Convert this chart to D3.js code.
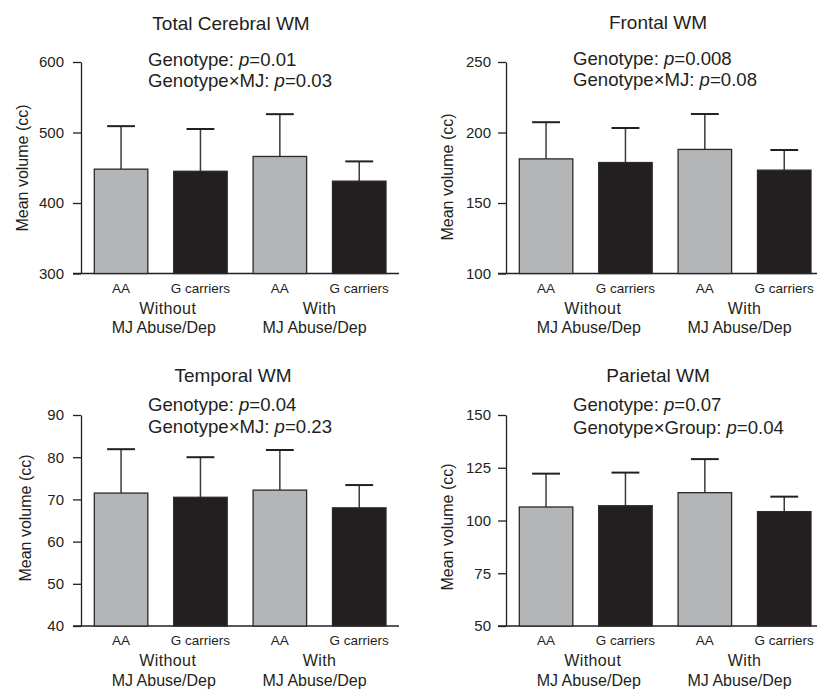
<!DOCTYPE html>
<html>
<head>
<meta charset="utf-8">
<script src="https://cdn.jsdelivr.net/npm/d3@7"></script>
<style>
  html, body { margin: 0; padding: 0; background: #fff; }
  svg { display: block; font-family: "Liberation Sans", Arial, Helvetica, sans-serif; }
</style>
</head>
<body>
<svg id="chart" width="817" height="689"></svg>
<script>
// ---------------- data ----------------
const categories = ["AA", "G carriers", "AA", "G carriers"];
const groupLabels = [["Without", "MJ Abuse/Dep"], ["With", "MJ Abuse/Dep"]];
const panelTitles = ["Total Cerebral WM", "Frontal WM", "Temporal WM", "Parietal WM"];

const totalMeans    = [448, 445, 466, 431];
const totalUpper    = [509, 505, 526, 459];
const frontalMeans  = [181.3, 178.7, 188, 173.3];
const frontalUpper  = [207.3, 203.2, 213.1, 187.6];
const temporalMeans = [71.5, 70.5, 72.2, 68];
const temporalUpper = [81.9, 80.0, 81.7, 73.4];
const parietalMeans = [106.4, 107, 113.2, 104.2];
const parietalUpper = [122.2, 122.7, 129.1, 111.3];

const totalTicks    = [300, 400, 500, 600];
const frontalTicks  = [100, 150, 200, 250];
const temporalTicks = [40, 50, 60, 70, 80, 90];
const parietalTicks = [50, 75, 100, 125, 150];

const statLine1Labels = ["Genotype: ", "Genotype: ", "Genotype: ", "Genotype: "];
const statLine1P      = ["=0.01", "=0.008", "=0.04", "=0.07"];
const statLine2Labels = ["Genotype\u00d7MJ: ", "Genotype\u00d7MJ: ", "Genotype\u00d7MJ: ", "Genotype\u00d7Group: "];
const statLine2P      = ["=0.03", "=0.08", "=0.23", "=0.04"];

const yAxisLabel = "Mean volume (cc)";
const barFills = ["#b4b5b7", "#231f20", "#b4b5b7", "#231f20"];

const means  = [totalMeans, frontalMeans, temporalMeans, parietalMeans];
const uppers = [totalUpper, frontalUpper, temporalUpper, parietalUpper];
const ticks  = [totalTicks, frontalTicks, temporalTicks, parietalTicks];

// ---------------- layout ----------------
const layout = [
  { ax: 81,  top: 62,  bot: 273.5, xEnd: 399, tickPad: 9, titleX: 231, titleY: 30,  annX: 148, annY: [65.7, 87.3], ylabX: 27.5, ylabY: 168, g1: [7, 3], g2: [0, -5] },
  { ax: 506, top: 62,  bot: 273.5, xEnd: 820, tickPad: 7, titleX: 658, titleY: 28.5, annX: 573, annY: [64.5, 86.2], ylabX: 452.5, ylabY: 177, g1: [7, 3], g2: [0, -5] },
  { ax: 81,  top: 415, bot: 626,   xEnd: 399, tickPad: 9, titleX: 233, titleY: 382, annX: 148, annY: [410.7, 432.5], ylabX: 31, ylabY: 518, g1: [7, 3], g2: [0, -5] },
  { ax: 506, top: 415, bot: 626,   xEnd: 820, tickPad: 7, titleX: 658, titleY: 382, annX: 573, annY: [410.7, 434], ylabX: 452.5, ylabY: 527, g1: [7, 3], g2: [0, -5] }
];

const svg = d3.select("#chart");

layout.forEach((L, i) => {
  const g = svg.append("g");
  const tk = ticks[i];
  const y = d3.scaleLinear().domain([tk[0], tk[tk.length - 1]]).range([L.bot, L.top]);
  const x = d3.scaleBand().domain(d3.range(categories.length))
    .range([L.ax + 13.3, L.ax + 305]).paddingInner(0.326).paddingOuter(0);

  // x axis baseline
  g.append("line")
    .attr("x1", L.ax - 8).attr("x2", L.xEnd)
    .attr("y1", L.bot).attr("y2", L.bot)
    .attr("stroke", "#231f20").attr("stroke-width", 1.3);

  // y axis
  const yAxis = d3.axisLeft(y).tickValues(tk).tickSize(8).tickPadding(L.tickPad).tickSizeOuter(0);
  const ya = g.append("g").attr("transform", `translate(${L.ax},0)`).call(yAxis);
  ya.select(".domain").attr("stroke", "#231f20").attr("stroke-width", 1.3);
  ya.selectAll(".tick line").attr("stroke", "#231f20").attr("stroke-width", 1.3);
  ya.selectAll(".tick text").attr("font-size", 15).attr("fill", "#231f20")
    .attr("font-family", "'Liberation Sans', Arial, sans-serif");

  // bars
  const m = means[i], u = uppers[i];
  const cw = x.bandwidth() * 0.52;
  // error bars (drawn first so bar covers base)
  g.selectAll(".err").data(m).enter().append("line")
    .attr("x1", (d, j) => x(j) + x.bandwidth() / 2)
    .attr("x2", (d, j) => x(j) + x.bandwidth() / 2)
    .attr("y1", d => y(d)).attr("y2", (d, j) => y(u[j]))
    .attr("stroke", "#3a3a3a").attr("stroke-width", 1.5);
  g.selectAll(".cap").data(u).enter().append("line")
    .attr("x1", (d, j) => x(j) + x.bandwidth() / 2 - cw / 2)
    .attr("x2", (d, j) => x(j) + x.bandwidth() / 2 + cw / 2)
    .attr("y1", d => y(d)).attr("y2", d => y(d))
    .attr("stroke", "#231f20").attr("stroke-width", 2);
  g.selectAll(".bar").data(m).enter().append("rect")
    .attr("x", (d, j) => x(j))
    .attr("width", x.bandwidth())
    .attr("y", d => y(d))
    .attr("height", d => L.bot - y(d))
    .attr("fill", (d, j) => barFills[j])
    .attr("stroke", "#2a2a2a").attr("stroke-width", 1.3);

  // category labels
  g.selectAll(".cat").data(categories).enter().append("text")
    .attr("x", (d, j) => x(j) + x.bandwidth() / 2)
    .attr("y", L.bot + 19.4)
    .attr("text-anchor", "middle").attr("font-size", 13.5).attr("fill", "#231f20")
    .text(d => d);

  // group labels
  groupLabels.forEach((lines, k) => {
    const cx = (x(2 * k) + x(2 * k + 1) + x.bandwidth()) / 2;
    const offs = k === 0 ? L.g1 : L.g2;
    lines.forEach((t, li) => {
      g.append("text")
        .attr("x", cx + offs[li])
        .attr("y", L.bot + (li === 0 ? 40 : 59.5))
        .attr("text-anchor", "middle").attr("font-size", 16).attr("fill", "#231f20")
        .attr("letter-spacing", li === 0 ? 0.4 : 0)
        .text(t);
    });
  });

  // title
  g.append("text").attr("x", L.titleX).attr("y", L.titleY)
    .attr("text-anchor", "middle").attr("font-size", 19).attr("fill", "#231f20")
    .text(panelTitles[i]);

  // stats annotation
  const lines = [[statLine1Labels[i], statLine1P[i]], [statLine2Labels[i], statLine2P[i]]];
  lines.forEach((ln, li) => {
    const t = g.append("text").attr("x", L.annX).attr("y", L.annY[li])
      .attr("font-size", 18.6).attr("fill", "#231f20");
    t.append("tspan").text(ln[0]);
    t.append("tspan").attr("font-style", "italic").text("p");
    t.append("tspan").text(ln[1]);
  });

  // y label
  g.append("text")
    .attr("transform", `translate(${L.ylabX},${L.ylabY}) rotate(-90)`)
    .attr("text-anchor", "middle").attr("font-size", 16).attr("fill", "#231f20")
    .text(yAxisLabel);
});
</script>
</body>
</html>
